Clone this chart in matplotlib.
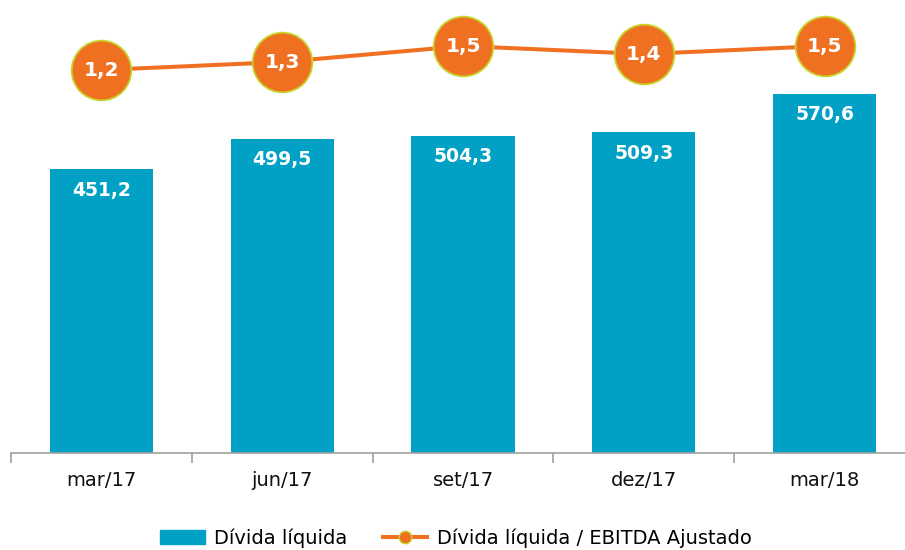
import matplotlib
matplotlib.use("Agg")
import matplotlib.pyplot as plt
from matplotlib.lines import Line2D
from matplotlib.patches import Patch
import numpy as np

categories = ["mar/17", "jun/17", "set/17", "dez/17", "mar/18"]
divida = [451.2, 499.5, 504.3, 509.3, 570.6]
ratio = [1.2, 1.3, 1.5, 1.4, 1.5]
bar_labels = ["451,2", "499,5", "504,3", "509,3", "570,6"]
ratio_labels = ["1,2", "1,3", "1,5", "1,4", "1,5"]

BAR = "#00A1C4"
ORANGE = "#F07022"
EDGE = "#C8D42C"

W, H = 905, 550
fig = plt.figure(figsize=(W / 100, H / 100), dpi=100)
left, right = 11, 915
bottom, top = 453, 10
ax = fig.add_axes([left / W, 1 - bottom / H, (right - left) / W, (bottom - top) / H])

x = np.arange(len(categories))
ax.bar(x, divida, width=0.57, color=BAR, zorder=2)
ax.set_xlim(-0.5, len(categories) - 0.5)
px_per_unit = 0.6294
ax.set_ylim(0, (bottom - top) / px_per_unit)

for xi, v, lab in zip(x, divida, bar_labels):
    ax.annotate(lab, (xi, v), xytext=(0, -21), textcoords="offset pixels",
                ha="center", va="center", color="white", fontsize=13.5,
                fontweight="bold")

for s in ["top", "right", "left"]:
    ax.spines[s].set_visible(False)
ax.spines["bottom"].set_color("#A0A0A0")
ax.spines["bottom"].set_linewidth(1.2)
ax.set_yticks([])
ax.set_xticks(x)
ax.set_xticklabels(categories, fontsize=14, color="#111111")
ax.tick_params(axis="x", length=0, pad=13)
ax.set_xticks(np.arange(-0.5, len(categories)), minor=True)
ax.tick_params(axis="x", which="minor", length=7, color="#A0A0A0", width=1.2)

ax2 = ax.twinx()
ax2.set_axis_off()
lo = 1.2 - (bottom - 70) / 80
hi = 1.2 + (70 - top) / 80
ax2.set_ylim(lo, hi)
ax2.plot(x, ratio, color=ORANGE, lw=2.9, marker="o", markersize=43,
         markerfacecolor=ORANGE, markeredgecolor=EDGE, markeredgewidth=1.3,
         zorder=3, clip_on=False)
for xi, v, lab in zip(x, ratio, ratio_labels):
    ax2.text(xi, v, lab, ha="center", va="center", color="white",
             fontsize=14.5, fontweight="bold", zorder=4)

handles = [Patch(facecolor=BAR, edgecolor=BAR),
           Line2D([0], [0], color=ORANGE, lw=2.9, marker="o", markersize=9,
                  markerfacecolor=ORANGE, markeredgecolor=EDGE)]
fig.legend(handles, ["Dívida líquida", "Dívida líquida / EBITDA Ajustado"],
           loc="center", bbox_to_anchor=(456 / W, 1 - 538 / H), ncol=2,
           frameon=False, fontsize=14, handlelength=2.3, handleheight=0.7,
           columnspacing=1.8, handletextpad=0.5)

fig.savefig("out.png", dpi=100)
